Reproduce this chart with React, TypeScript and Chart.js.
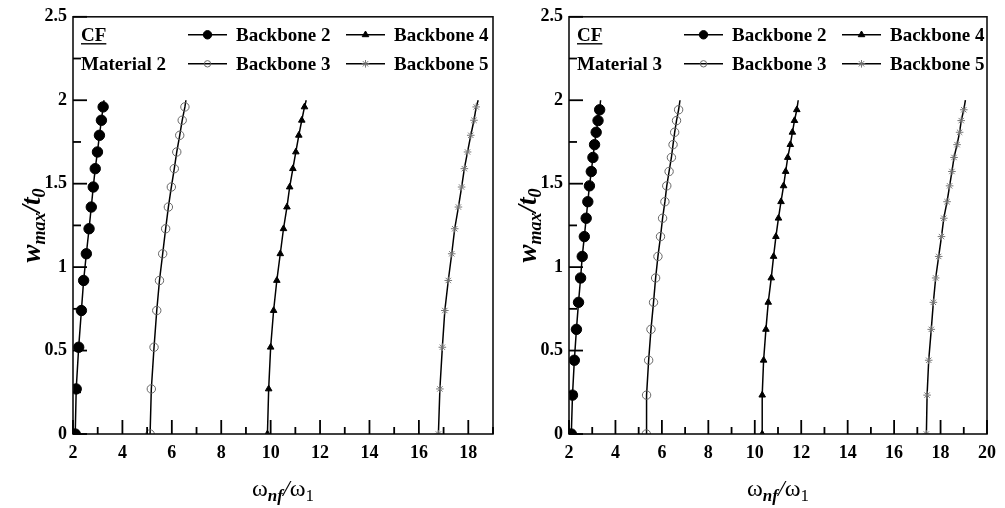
import React, { useEffect, useRef } from 'react';
import { Chart, registerables } from 'chart.js';
import { drawPoint } from 'chart.js/helpers';

Chart.register(...registerables);

// ---------- data ----------
const SERIES_NAMES = ['Backbone 2', 'Backbone 3', 'Backbone 4', 'Backbone 5'];
const PANEL_NAMES = ['Material 2', 'Material 3'];
const PANEL_TAG = 'CF';

// Left panel (Material 2): amplitude levels and frequency ratios
const LEFT_Y = [0, 0.27, 0.52, 0.74, 0.92, 1.08, 1.23, 1.36, 1.48, 1.59, 1.69, 1.79, 1.88, 1.96, 2.0];
const LEFT_B2 = [2.09, 2.13, 2.23, 2.34, 2.43, 2.54, 2.65, 2.74, 2.82, 2.9, 2.99, 3.07, 3.15, 3.22, 3.25];
const LEFT_B3 = [5.12, 5.17, 5.28, 5.39, 5.5, 5.63, 5.75, 5.86, 5.98, 6.1, 6.2, 6.32, 6.42, 6.53, 6.57];
const LEFT_B4 = [9.87, 9.92, 10.0, 10.12, 10.25, 10.39, 10.52, 10.66, 10.77, 10.9, 11.02, 11.14, 11.26, 11.37, 11.44];
const LEFT_B5 = [16.79, 16.85, 16.95, 17.05, 17.19, 17.33, 17.45, 17.6, 17.73, 17.84, 17.97, 18.1, 18.23, 18.32, 18.4];

// Right panel (Material 3)
const RIGHT_Y = [0, 0.233, 0.442, 0.627, 0.789, 0.935, 1.064, 1.183, 1.293, 1.392, 1.487, 1.573, 1.657, 1.734, 1.808, 1.878, 1.943, 2.0];
const RIGHT_B2 = [2.1, 2.15, 2.23, 2.32, 2.41, 2.5, 2.57, 2.66, 2.74, 2.81, 2.88, 2.96, 3.03, 3.1, 3.17, 3.25, 3.32, 3.36];
const RIGHT_B3 = [5.33, 5.34, 5.43, 5.53, 5.64, 5.73, 5.83, 5.94, 6.03, 6.13, 6.21, 6.31, 6.41, 6.48, 6.55, 6.63, 6.72, 6.78];
const RIGHT_B4 = [10.32, 10.32, 10.38, 10.48, 10.58, 10.71, 10.81, 10.91, 11.02, 11.13, 11.24, 11.33, 11.42, 11.53, 11.62, 11.71, 11.81, 11.87];
const RIGHT_B5 = [17.39, 17.42, 17.49, 17.6, 17.69, 17.79, 17.92, 18.04, 18.14, 18.28, 18.39, 18.49, 18.58, 18.71, 18.82, 18.89, 19.0, 19.07];

const X_MIN = 2;
const LEFT_X_MAX = 19;
const RIGHT_X_MAX = 20;
const X_STEP = 1;
const Y_MIN = 0;
const Y_MAX = 2.5;
const Y_STEP = 0.25;

// ---------- styles ----------
const FONT = '"Liberation Serif", "Times New Roman", "DejaVu Serif", serif';

const MARKERS = [
  { pointStyle: 'circle', radius: 5.2, bg: '#000', border: '#000', bw: 1 },
  { pointStyle: 'circle', radius: 4.2, bg: 'rgba(255,255,255,0)', border: '#666', bw: 1 },
  { pointStyle: 'triangle', radius: 3.8, bg: '#000', border: '#000', bw: 1 },
  { pointStyle: 'star', radius: 3.8, bg: '#777', border: '#777', bw: 1 },
];

function buildDatasets(ys: number[], xsList: number[][]) {
  return xsList.map((xs, i) => ({
    label: SERIES_NAMES[i],
    data: xs.map((x, j) => ({ x, y: ys[j] })),
    showLine: true,
    borderColor: '#000',
    borderWidth: 1.5,
    backgroundColor: MARKERS[i].bg,
    pointStyle: MARKERS[i].pointStyle,
    pointRadius: xs.map((_, j) => (j === xs.length - 1 ? 0 : MARKERS[i].radius)),
    pointBackgroundColor: MARKERS[i].bg,
    pointBorderColor: MARKERS[i].border,
    pointBorderWidth: MARKERS[i].bw,
    tension: 0,
    fill: false,
  }));
}

type Piece = { t: string; font: string; dy: number };

function drawPieces(ctx: CanvasRenderingContext2D, pieces: Piece[], cx: number, baseY: number) {
  let total = 0;
  const widths = pieces.map((p) => {
    ctx.font = p.font;
    const w = ctx.measureText(p.t).width;
    total += w;
    return w;
  });
  let x = cx - total / 2;
  ctx.textAlign = 'left';
  ctx.textBaseline = 'alphabetic';
  pieces.forEach((p, i) => {
    ctx.font = p.font;
    ctx.fillText(p.t, x, baseY + p.dy);
    x += widths[i];
  });
}

const decorPlugin = {
  id: 'decor',
  afterDraw(chart: any, _args: any, opts: any) {
    const ctx = chart.ctx;
    const a = chart.chartArea;
    const sx = chart.scales.x;
    const sy = chart.scales.y;
    const left = a.left;
    const right = a.right;
    const top = a.top;
    const bottom = a.bottom;
    ctx.save();
    // frame
    ctx.strokeStyle = '#111';
    ctx.lineWidth = 1.6;
    ctx.strokeRect(left, top, right - left, bottom - top);

    // inward ticks
    ctx.strokeStyle = '#000';
    ctx.lineWidth = 1.8;
    const xMin = Number(opts.xMin);
    const xMax = Number(opts.xMax);
    for (let v = xMin; v <= xMax + 1e-6; v += X_STEP) {
      const px = sx.getPixelForValue(v);
      const major = Math.round(v) % 2 === 0;
      ctx.beginPath();
      ctx.moveTo(px, bottom);
      ctx.lineTo(px, bottom - (major ? 14 : 7));
      ctx.stroke();
    }
    for (let v = Y_MIN; v <= Y_MAX + 1e-6; v += Y_STEP) {
      const py = sy.getPixelForValue(v);
      const major = Math.round(v / Y_STEP) % 2 === 0;
      ctx.beginPath();
      ctx.moveTo(left, py);
      ctx.lineTo(left + (major ? 14 : 8), py);
      ctx.stroke();
    }

    ctx.fillStyle = '#000';
    ctx.strokeStyle = '#000';
    // panel tag + name
    ctx.font = `bold 19px ${FONT}`;
    ctx.textAlign = 'left';
    ctx.textBaseline = 'alphabetic';
    const tx = left + 8;
    ctx.fillText(PANEL_TAG, tx, top + 24);
    const w = ctx.measureText(PANEL_TAG).width;
    ctx.beginPath();
    ctx.lineWidth = 1.4;
    ctx.moveTo(tx, top + 27);
    ctx.lineTo(tx + w, top + 27);
    ctx.stroke();
    ctx.fillText(opts.panelName, tx, top + 53);

    // legend (2 columns x 2 rows)
    chart.data.datasets.forEach((ds: any, i: number) => {
      const col = Math.floor(i / 2);
      const row = i % 2;
      const lx = left + (col === 0 ? 115 : 273);
      const ly = top + (row === 0 ? 18 : 47);
      ctx.beginPath();
      ctx.strokeStyle = '#000';
      ctx.lineWidth = 1.5;
      ctx.moveTo(lx, ly);
      ctx.lineTo(lx + 39, ly);
      ctx.stroke();
      ctx.fillStyle = ds.pointBackgroundColor;
      ctx.strokeStyle = ds.pointBorderColor;
      ctx.lineWidth = ds.pointBorderWidth;
      const r = i < 2 ? MARKERS[i].radius - 1 : MARKERS[i].radius;
      drawPoint(ctx, { pointStyle: ds.pointStyle, radius: r, rotation: 0, borderWidth: ds.pointBorderWidth }, lx + 19.5, ly);
      ctx.fillStyle = '#000';
      ctx.font = `bold 19px ${FONT}`;
      ctx.textBaseline = 'middle';
      ctx.textAlign = 'left';
      ctx.fillText(ds.label, lx + 48, ly + 1);
    });

    // x title: ω_nf / ω_1
    ctx.fillStyle = '#000';
    drawPieces(
      ctx,
      [
        { t: 'ω', font: `24px ${FONT}`, dy: 0 },
        { t: 'nf', font: `italic bold 17px ${FONT}`, dy: 5 },
        { t: '/', font: `italic 24px ${FONT}`, dy: 0 },
        { t: 'ω', font: `24px ${FONT}`, dy: 0 },
        { t: '1', font: `17px ${FONT}`, dy: 5 },
      ],
      (left + right) / 2,
      496
    );

    // y title: w_max / t_0 (rotated)
    ctx.save();
    ctx.translate(left - 33, (top + bottom) / 2);
    ctx.rotate(-Math.PI / 2);
    drawPieces(
      ctx,
      [
        { t: 'w', font: `italic bold 27px ${FONT}`, dy: 0 },
        { t: 'max', font: `italic bold 18px ${FONT}`, dy: 5 },
        { t: '/', font: `italic bold 27px ${FONT}`, dy: 0 },
        { t: 't', font: `italic bold 27px ${FONT}`, dy: 0 },
        { t: '0', font: `italic bold 18px ${FONT}`, dy: 5 },
      ],
      0,
      0
    );
    ctx.restore();
    ctx.restore();
  },
};

function fmt(v: number) {
  return String(Math.round(v * 100) / 100);
}

function makeConfig(ys: number[], xsList: number[][], xMax: number, yWidth: number, padRight: number, panelName: string): any {
  return {
    type: 'scatter',
    data: { datasets: buildDatasets(ys, xsList) },
    options: {
      responsive: false,
      animation: false,
      devicePixelRatio: 1,
      layout: { padding: { left: 0, right: padRight, top: 15, bottom: 0 } },
      plugins: {
        legend: { display: false },
        tooltip: { enabled: false },
        decor: { panelName, xMin: X_MIN, xMax },
      },
      scales: {
        x: {
          type: 'linear',
          min: X_MIN,
          max: xMax,
          afterFit: (s: any) => {
            s.height = 74;
          },
          border: { display: false },
          grid: { display: false, drawTicks: false },
          ticks: {
            stepSize: X_STEP,
            autoSkip: false,
            maxRotation: 0,
            padding: 9,
            color: '#000',
            font: { family: FONT, size: 18, weight: 'bold' },
            callback: (v: number) => (Math.round(v) % 2 === 0 ? fmt(v) : ''),
          },
        },
        y: {
          type: 'linear',
          min: Y_MIN,
          max: Y_MAX,
          afterFit: (s: any) => {
            s.width = yWidth;
          },
          border: { display: false },
          grid: { display: false, drawTicks: false },
          ticks: {
            stepSize: Y_STEP,
            autoSkip: false,
            padding: 6,
            color: '#000',
            font: { family: FONT, size: 18, weight: 'bold' },
            callback: (v: number) => (Math.round(v * 4) % 2 === 0 ? fmt(v) : ''),
          },
        },
      },
    },
    plugins: [decorPlugin],
  };
}

function Panel(props: { left: number; width: number; cfg: () => any }) {
  const ref = useRef<HTMLCanvasElement>(null);
  useEffect(() => {
    if (!ref.current) return;
    const chart = new Chart(ref.current, props.cfg());
    return () => chart.destroy();
  }, []);
  return (
    <canvas
      ref={ref}
      width={props.width}
      height={508}
      style={{ position: 'absolute', left: props.left, top: 0, width: props.width, height: 508 }}
    />
  );
}

export default function App() {
  return (
    <div style={{ position: 'fixed', left: 0, top: 0, width: 1005, height: 508, background: '#fff', overflow: 'hidden' }}>
      <Panel
        left={0}
        width={502}
        cfg={() => makeConfig(LEFT_Y, [LEFT_B2, LEFT_B3, LEFT_B4, LEFT_B5], LEFT_X_MAX, 73, 7, PANEL_NAMES[0])}
      />
      <Panel
        left={502}
        width={503}
        cfg={() => makeConfig(RIGHT_Y, [RIGHT_B2, RIGHT_B3, RIGHT_B4, RIGHT_B5], RIGHT_X_MAX, 67, 14, PANEL_NAMES[1])}
      />
    </div>
  );
}
